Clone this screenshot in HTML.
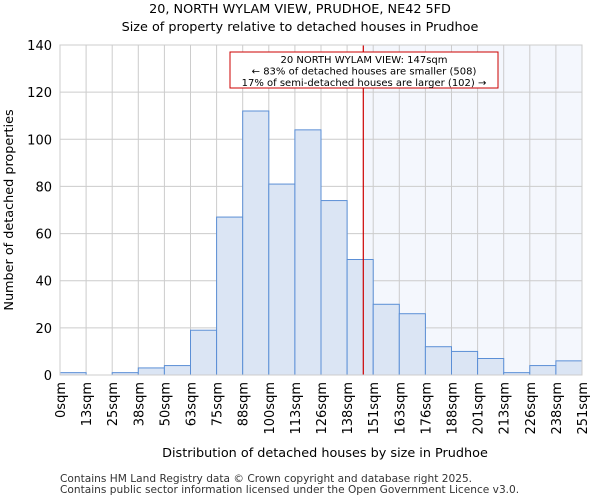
<!DOCTYPE html>
<html><head><meta charset="utf-8"><style>
body{margin:0;background:#fff;font-family:"DejaVu Sans","Liberation Sans",sans-serif}
svg text{font-family:"DejaVu Sans","Liberation Sans",sans-serif}
</style></head><body>
<svg id="c" width="600" height="500">
<text x="300" y="13" text-anchor="middle" font-size="12.8">20, NORTH WYLAM VIEW, PRUDHOE, NE42 5FD</text>
<text x="300" y="31" text-anchor="middle" font-size="12.8">Size of property relative to detached houses in Prudhoe</text>
<g id="plot"></g>
<text x="325" y="457" text-anchor="middle" font-size="12.8">Distribution of detached houses by size in Prudhoe</text>
<text transform="translate(13,210) rotate(-90)" text-anchor="middle" font-size="12.8">Number of detached properties</text>
<text x="60" y="482" font-size="10.6" fill="#333">Contains HM Land Registry data © Crown copyright and database right 2025.</text>
<text x="60" y="493" font-size="10.6" fill="#333">Contains public sector information licensed under the Open Government Licence v3.0.</text>
</svg>
<script>
const tickLabels=["0sqm","13sqm","25sqm","38sqm","50sqm","63sqm","75sqm","88sqm","100sqm","113sqm","126sqm","138sqm","151sqm","163sqm","176sqm","188sqm","201sqm","213sqm","226sqm","238sqm","251sqm"];
const counts=[1,0,1,3,4,19,67,112,81,104,74,49,30,26,12,10,7,1,4,6];
const yTicks=[0,20,40,60,80,100,120,140];
const propertySize=147;
const binStart=0, binWidth=12.65;
const X0=60,X1=582,Y0=375,Y1=45,YMAX=140;
const nb=counts.length;
const xb=i=>X0+(X1-X0)*i/nb;
const xv=v=>X0+(X1-X0)*(v-binStart)/(binWidth*nb);
const y=v=>Y0-(Y0-Y1)*v/YMAX;
const g=document.getElementById('plot');
const NS="http://www.w3.org/2000/svg";
function mk(t,a){const e=document.createElementNS(NS,t);for(const k in a)e.setAttribute(k,a[k]);g.appendChild(e);return e;}
const lx=xv(propertySize);
let sh=mk('rect',{x:lx,y:Y1,width:X1-lx,height:Y0-Y1,fill:'#f4f7fd'});


yTicks.forEach(v=>{
 let l=mk('line',{x1:X0,x2:X1,y1:y(v),y2:y(v),stroke:'#ccc','stroke-width':1});
 
 
 let t=mk('text',{x:X0-8,y:y(v)+5,'text-anchor':'end','font-size':13});
 t.textContent=v;
 
 
});
tickLabels.forEach((s,i)=>{
 let l=mk('line',{x1:xb(i),x2:xb(i),y1:Y1,y2:Y0,stroke:'#ccc','stroke-width':1});
 
 
 let t=mk('text',{transform:`translate(${xb(i)+5},${Y0+7}) rotate(-90)`,'text-anchor':'end','font-size':13});
 t.textContent=s;
 
 
});
counts.forEach((c,i)=>{
 let r=mk('rect',{x:xb(i),y:y(c),width:xb(i+1)-xb(i),height:Y0-y(c),fill:'#dbe5f4',stroke:'#5b8fd6','stroke-width':1});
 
 
});
let pl=mk('line',{x1:lx,x2:lx,y1:Y1,y2:Y0,stroke:'#c00','stroke-width':1.2});


let bx=mk('rect',{x:230,y:52,width:268,height:36,fill:'#fff',stroke:'#c00','stroke-width':1});


["20 NORTH WYLAM VIEW: 147sqm","← 83% of detached houses are smaller (508)","17% of semi-detached houses are larger (102) →"].forEach((s,i)=>{
 let t=mk('text',{x:364,y:63+i*11.5,'text-anchor':'middle','font-size':10});
 t.textContent=s;
 
 
});
let ax=mk('rect',{x:X0,y:Y1,width:X1-X0,height:Y0-Y1,fill:'none',stroke:'#ccc'});


</script>
</body></html>
